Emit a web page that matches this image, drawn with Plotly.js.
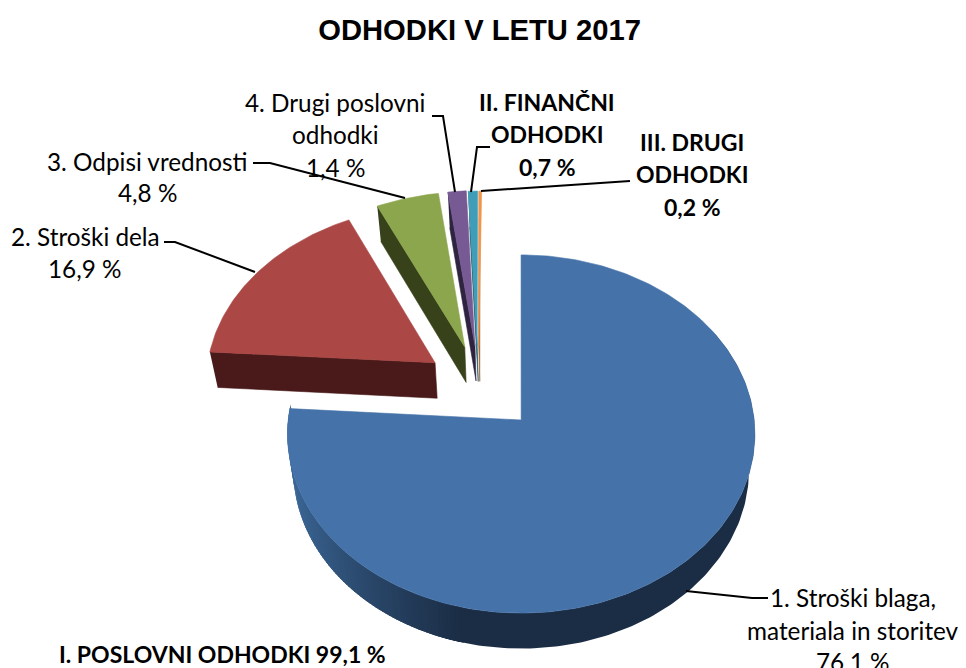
<!DOCTYPE html>
<html><head><meta charset="utf-8">
<script src="https://cdn.plot.ly/plotly-3.0.1.min.js"></script>
<style>html,body{margin:0;padding:0;background:#fff;overflow:hidden}</style></head>
<body><div id="chart" style="width:966px;height:668px"></div>
<script>
// ---- data ----
const categories = ["1. Stroški blaga, materiala in storitev","2. Stroški dela","3. Odpisi vrednosti","4. Drugi poslovni odhodki","II. Finančni odhodki","III. Drugi odhodki"];
const values = [76.1,16.9,4.8,1.4,0.7,0.2];
const topColors = ["#4572a8","#ab4744","#8ca64e","#775a93","#3f9db8","#f0954a"];
const wallColors = ["#1b2d45","#4a1a1a","#37411a","#2e2440","#1a5566","#a0602a"];
const explodeX = [0.005,-0.374,-0.245,-0.2,-0.19,-0.183];
const explodeY = [0,0.33,0.424,0.433,0.43,0.43];
const titleText = "ODHODKI V LETU 2017";

// ---- projection of the tilted disc on the axes ----
const cx=520, cy=420, B=233, A=178, k=0.0782, depth=35.5, shrink=0.975;
function proj(X,Y,low){
  const s=1/(1+k*Y);
  let x=cx+B*X*s, y=cy-A*Y*s;
  if(low){x=cx+(x-cx)*shrink; y+=depth;}
  return [x,y];
}
function pt(i,a,r,low){const t=a*Math.PI/180; return proj(explodeX[i]+r*Math.sin(t),explodeY[i]+r*Math.cos(t),low);}
function poly(pts,color,w){
  return {type:"scatter",mode:"lines",x:pts.map(p=>p[0]),y:pts.map(p=>p[1]),fill:"toself",fillcolor:color,
    line:{color:color,width:w===undefined?0.6:w},hoverinfo:"skip",showlegend:false};
}
const total=values.reduce((a,b)=>a+b,0);
let cum=0; const starts=[],ends=[];
values.forEach(v=>{starts.push(cum/total*360);cum+=v;ends.push(cum/total*360);});

function mix(a,b,t){return "rgb("+a.map((c,i)=>Math.round(c+(b[i]-c)*t)).join(",")+")";}
const traces=[];
// dark part of the blue rim as one band
(function(){
  const top=[],low=[];
  for(let a=60;a<=195;a+=1){top.push(pt(0,a,1,false));low.unshift(pt(0,a,1,true));}
  traces.push(poly(top.concat(low),wallColors[0],0));
})();
// shaded part of the blue rim, in small overlapping steps, drawn from the dark end to the left
for(let a=194;a<ends[0];a+=1){
  const p1=pt(0,a-0.5,1,false),p2=pt(0,a+2,1,false),q2=pt(0,a+2,1,true),q1=pt(0,a-0.5,1,true);
  const t=Math.pow(Math.min(1,Math.max(0,(p1[0]-292)/170)),0.75);
  traces.push(poly([p1,p2,q2,q1],mix([60,104,152],[27,45,69],t),0));
}
function face(i){
  const pts=[pt(i,0,0,false)];
  for(let a=starts[i];a<ends[i];a+=1)pts.push(pt(i,a,1,false));
  pts.push(pt(i,ends[i],1,false));pts.push(pt(i,0,0,false));
  return poly(pts,topColors[i]);
}
traces.push(face(0));
for(let i=1;i<values.length;i++){
  // the radial wall facing the viewer
  const a=starts[i];
  traces.push(poly([pt(i,a,1,false),pt(i,0,0,false),pt(i,0,0,true),pt(i,a,1,true)],wallColors[i]));
  traces.push(face(i));
}
// leader lines
const leaderX=[[432,443,455],[490,477,471],[630,481],[253,270,405],[164,175,255],[768,752,686]];
const leaderY=[[116,116,192],[147,147,192],[181,191],[163,163,198],[242,242,272],[598,598,591]];
leaderX.forEach((lx,i)=>traces.push({type:"scatter",mode:"lines",x:lx,y:leaderY[i],line:{color:"#000",width:2},hoverinfo:"skip",showlegend:false}));

function lbl(x,y,text,bold){
  return {x:x,y:y,xref:"x",yref:"y",text:bold?"<b>"+text+"</b>":text,showarrow:false,xanchor:"center",yanchor:"middle",
    font:{family:"Lato, 'Open Sans', sans-serif",size:bold?23:24.3,color:"#000"}};
}
const annotations=[
 lbl(335,102,"4. Drugi poslovni"),lbl(335,134,"odhodki"),lbl(335,167,"1,4 %"),
 lbl(547,102,"II. FINANČNI",true),lbl(547,134,"ODHODKI",true),lbl(547,167,"0,7 %",true),
 lbl(692,142,"III. DRUGI",true),lbl(692,174,"ODHODKI",true),lbl(692,207,"0,2 %",true),
 lbl(147,161,"3. Odpisi vrednosti"),lbl(147,192,"4,8 %"),
 lbl(85,236,"2. Stroški dela"),lbl(85,268,"16,9 %"),
 lbl(853,597,"1. Stroški blaga,"),lbl(853,630,"materiala in storitev"),lbl(853,661,"76,1 %"),
 lbl(222,654,"I. POSLOVNI ODHODKI 99,1 %",true)
];
const layout={
  width:966,height:668,margin:{l:0,r:0,t:0,b:0},paper_bgcolor:"#fff",plot_bgcolor:"#fff",showlegend:false,
  title:{text:"<b>"+titleText+"</b>",x:0.4965,xanchor:"center",y:0.955,yanchor:"middle",font:{family:"Liberation Sans, Arial, sans-serif",size:29.2,color:"#000"}},
  xaxis:{range:[0,966],visible:false,fixedrange:true},
  yaxis:{range:[668,0],visible:false,fixedrange:true},
  annotations:annotations
};
Plotly.newPlot("chart",traces,layout,{displayModeBar:false,staticPlot:true});
</script></body></html>
